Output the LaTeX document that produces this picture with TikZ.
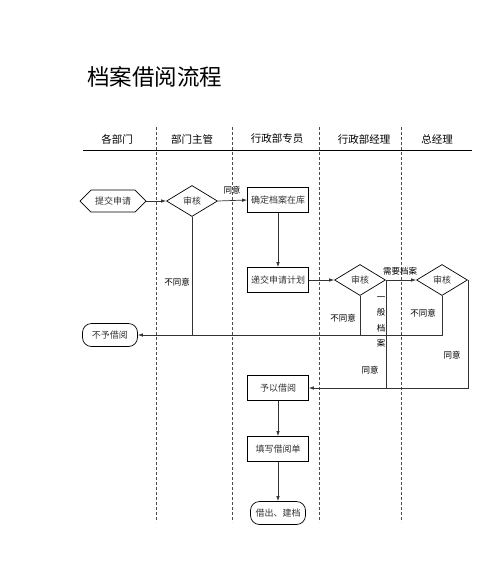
\documentclass[tikz,border=0pt]{standalone}
\usepackage{fontspec}
\setmainfont{Noto Sans CJK SC}
\usetikzlibrary{shapes.geometric,shapes.symbols,arrows.meta}
\tikzset{
  box/.style={draw, line width=0.7pt, minimum width=61pt, minimum height=25pt, inner sep=1pt, font=\fontsize{9}{10}\selectfont, text=black!80},
  term/.style={draw, line width=0.7pt, rounded corners=9pt, minimum width=55pt, minimum height=23pt, inner sep=1pt, font=\fontsize{9}{10}\selectfont, text=black!80},
  dia/.style={draw, line width=0.7pt, diamond, aspect=1.6, minimum width=51pt, minimum height=31pt, inner sep=0pt, font=\fontsize{9}{10}\selectfont, text=black!80},
  hexa/.style={draw, line width=0.7pt, signal, signal to=west and east, minimum width=66pt, minimum height=22pt, inner sep=1pt, font=\fontsize{9}{10}\selectfont, text=black!80},
  lane/.style={dashed, dash pattern=on 3pt off 2pt, line width=0.6pt, black!70},
  conn/.style={line width=0.7pt, black!80},
  arr/.style={conn, -{Latex[length=5pt,width=3.5pt]}},
  lbl/.style={font=\fontsize{8.5}{9}\selectfont, inner sep=0pt},
  hdr/.style={font=\fontsize{10.5}{11}\selectfont, inner sep=0pt},
}
\begin{document}
\begin{tikzpicture}[x=1pt,y=-1pt]
\useasboundingbox (0,0) rectangle (500,566);
\node[font=\fontsize{22.5}{23}\selectfont, anchor=west, inner sep=0pt] (title) at (87,77) {档案借阅流程};
% header
\node[hdr] (h1) at (117,139) {各部门};
\node[hdr] (h2) at (192,139) {部门主管};
\node[hdr] (h3) at (277,139) {行政部专员};
\node[hdr] (h4) at (364,139) {行政部经理};
\node[hdr] (h5) at (437,139) {总经理};
\coordinate (hl1) at (83,150);
\coordinate (hl2) at (472,150);
\draw[line width=0.8pt] (hl1) -- (hl2);
\foreach \x/\n in {156/a,232/b,319/c,401/d}{
  \coordinate (t\n) at (\x,127);
  \coordinate (b\n) at (\x,522);
  \draw[lane] (t\n) -- (b\n);
}
% nodes
\node[hexa] (sub) at (113,201) {提交申请};
\node[dia] (d1) at (192,201) {审核};
\node[box] (b1) at (278,200) {确定档案在库};
\node[box] (b2) at (278,280) {递交申请计划};
\node[dia] (d2) at (360,280) {审核};
\node[dia] (d3) at (442,280) {审核};
\node[term] (no) at (110,335) {不予借阅};
\node[box] (b3) at (278,388) {予以借阅};
\node[box] (b4) at (278,449) {填写借阅单};
\node[term] (out) at (278,513) {借出、建档};
% connectors
\draw[arr] (sub.east) -- (d1.west);
\draw[arr] (d1.east) -- (b1.west);
\draw[arr] (b1.south) -- (b2.north);
\draw[arr] (b2.east) -- (d2.west);
\draw[arr] (d2.east) -- (d3.west);
\draw[conn] (d1.south) -- (d1.south |- no.east);
\draw[conn] (d2.south) -- (d2.south |- no.east);
\draw[arr] (d3.south) |- (no.east);
\draw[conn] (d2.east) -- (d2.east |- b3.east);
\draw[arr] (d3.east) |- (b3.east);
\draw[arr] (b3.south) -- (b4.north);
\draw[arr] (b4.south) -- (out.north);
% labels
\node[lbl] (l1) at (232,190) {同意};
\node[lbl] (l2) at (400,271) {需要档案};
\node[lbl] (l3) at (177,282) {不同意};
\node[lbl] (l4) at (343,318) {不同意};
\node[lbl] (l5) at (423,313) {不同意};
\node[lbl, align=center, font=\fontsize{8.5}{15.5}\selectfont] (l6) at (381,322) {一\\般\\档\\案};
\node[lbl] (l7) at (370,370) {同意};
\node[lbl] (l8) at (452,355) {同意};
\end{tikzpicture}
\end{document}
